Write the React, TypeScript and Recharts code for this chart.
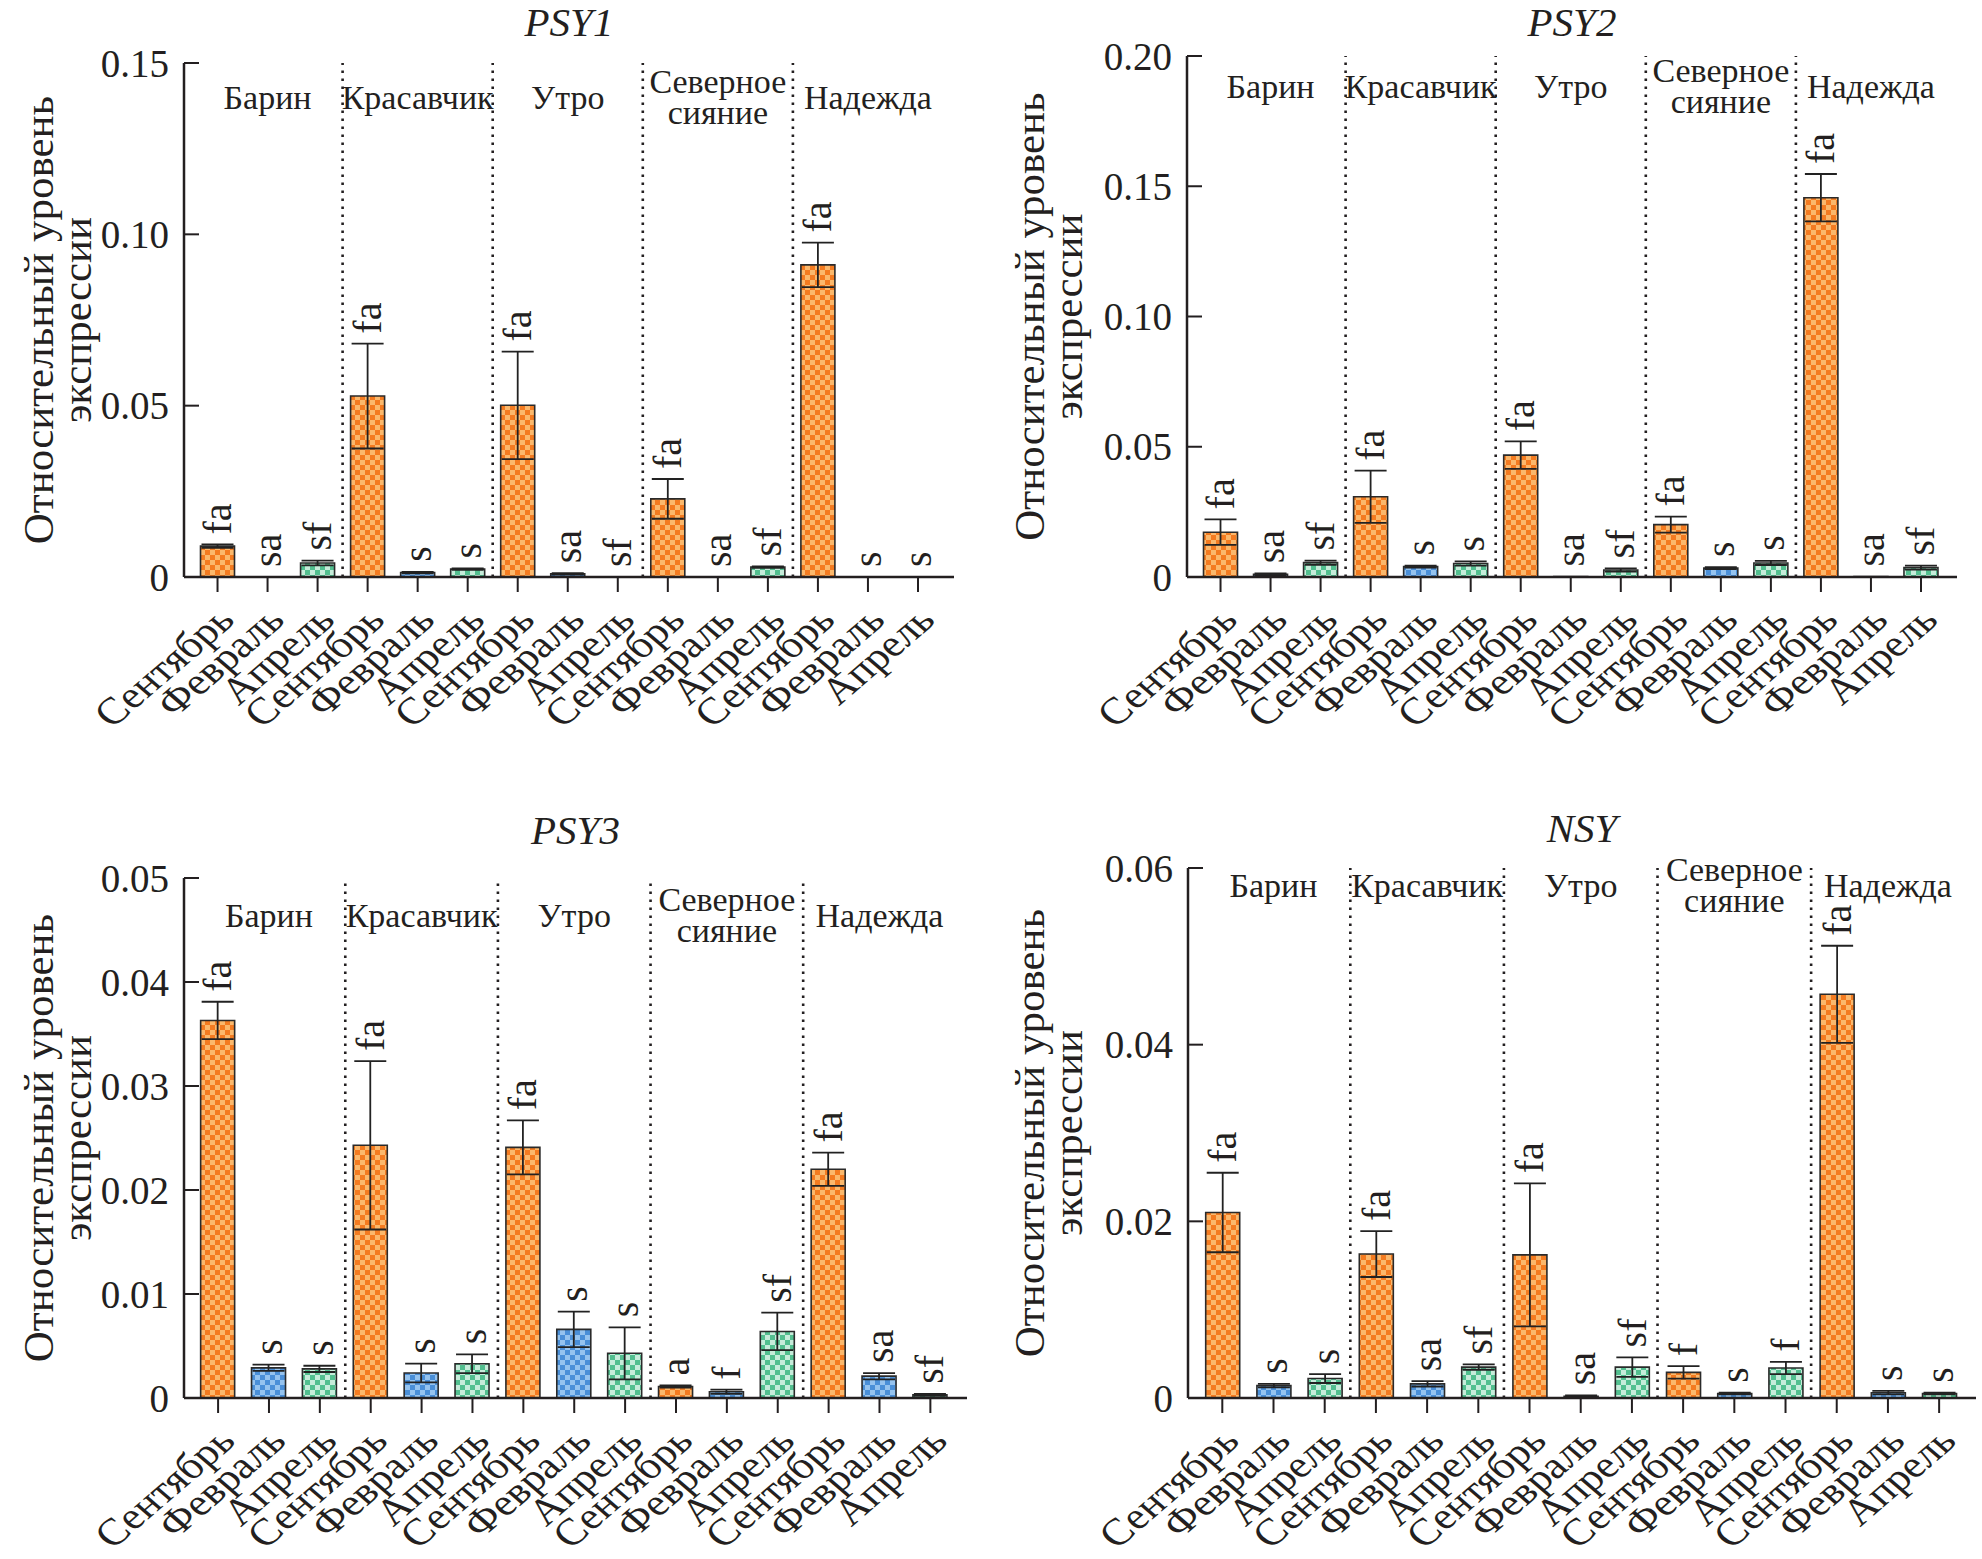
import React from 'react';
import { BarChart, Bar, XAxis, YAxis, ErrorBar, Cell, LabelList, ReferenceLine } from 'recharts';

const varieties = ['Барин', 'Красавчик', 'Утро', 'Северное\nсияние', 'Надежда'];
const months = ['Сентябрь', 'Февраль', 'Апрель'];
const categories = varieties.flatMap(() => months);

const psy1Values = [0.009, 0, 0.0041, 0.0528, 0.0013, 0.0023, 0.0501, 0.0009, 0, 0.0228, 0, 0.0029, 0.0911, 0, 0];
const psy1Errors = [0.0005, 0, 0.0007, 0.0153, 0.0002, 0.0002, 0.0157, 0.0002, 0, 0.0058, 0, 0.0002, 0.0065, 0, 0];
const psy1Letters = ['fa', 'sa', 'sf', 'fa', 's', 's', 'fa', 'sa', 'sf', 'fa', 'sa', 'sf', 'fa', 's', 's'];

const psy2Values = [0.0172, 0.001, 0.0055, 0.0308, 0.004, 0.0052, 0.0468, 0.0002, 0.0027, 0.0201, 0.0034, 0.0054, 0.1456, 0.0002, 0.0036];
const psy2Errors = [0.0049, 0.0004, 0.0008, 0.01, 0.0004, 0.0008, 0.0053, 0, 0.0006, 0.0031, 0.0004, 0.0008, 0.0091, 0, 0.0008];
const psy2Letters = ['fa', 'sa', 'sf', 'fa', 's', 's', 'fa', 'sa', 'sf', 'fa', 's', 's', 'fa', 'sa', 'sf'];

const psy3Values = [0.0363, 0.0029, 0.0028, 0.0243, 0.0024, 0.0033, 0.0241, 0.0066, 0.0043, 0.0011, 0.0006, 0.0064, 0.022, 0.0021, 0.0003];
const psy3Errors = [0.0018, 0.0003, 0.0003, 0.0081, 0.0009, 0.0009, 0.0026, 0.0017, 0.0025, 0.0001, 0.0002, 0.0018, 0.0016, 0.0003, 0.0001];
const psy3Letters = ['fa', 's', 's', 'fa', 's', 's', 'fa', 's', 's', 'a', 'f', 'sf', 'fa', 'sa', 'sf'];

const nsyValues = [0.021, 0.0014, 0.0022, 0.0163, 0.0016, 0.0035, 0.0162, 0.0002, 0.0035, 0.0029, 0.0005, 0.0034, 0.0457, 0.0006, 0.0005];
const nsyErrors = [0.0045, 0.0002, 0.0005, 0.0026, 0.0003, 0.0003, 0.0081, 0.0001, 0.0011, 0.0007, 0.0001, 0.0007, 0.0055, 0.0002, 0.0001];
const nsyLetters = ['fa', 's', 's', 'fa', 'sa', 'sf', 'fa', 'sa', 'sf', 'f', 's', 'f', 'fa', 's', 's'];

const psy1Ticks = [0, 0.05, 0.1, 0.15];
const psy2Ticks = [0, 0.05, 0.1, 0.15, 0.2];
const psy3Ticks = [0, 0.01, 0.02, 0.03, 0.04, 0.05];
const nsyTicks = [0, 0.02, 0.04, 0.06];

const FONT = "'Liberation Serif', 'Times New Roman', serif";
const INK = '#231f20';
const monthColors = [
  { base: '#f47b20', light: '#fbb86c' },
  { base: '#4a8fd8', light: '#95c3ef' },
  { base: '#52bf8f', light: '#c6ecda' },
];

// helper bar on top of each value bar carries the letter label at value + error;
// a tiny floor keeps zero-height helpers from losing their label
const buildRows = (values: number[], errors: number[], letters: string[]) =>
  values.map((v, i) => ({
    pos: i + 1,
    month: i % 3,
    value: v,
    err: errors[i],
    top: Math.max(errors[i], 1e-7),
    letter: letters[i],
  }));

const MonthTick = (props: any) => {
  const { x, y, payload } = props;
  const label = categories[payload.value - 1];
  const tx = x + 19;
  const ty = y + 45;
  return (
    <g>
      <line x1={x} y1={y} x2={x} y2={y + 15} stroke={INK} strokeWidth={2} />
      <text
        x={0}
        y={0}
        transform={`translate(${tx}, ${ty}) scale(1, 0.86) rotate(-45)`}
        textAnchor="end"
        fontSize={44}
        fontFamily={FONT}
        fill={INK}
      >
        {label}
      </text>
    </g>
  );
};

const ValueTick = (props: any) => {
  const { x, y, payload } = props;
  const v = payload.value;
  return (
    <g>
      <line x1={x} y1={y} x2={x + 15} y2={y} stroke={INK} strokeWidth={2} />
      <text x={x - 15} y={y} dy="0.35em" textAnchor="end" fontSize={39} fontFamily={FONT} fill={INK}>
        {v === 0 ? '0' : v.toFixed(2)}
      </text>
    </g>
  );
};

const YLabel = (props: any) => {
  const vb = props.viewBox || {};
  const cy = vb.y + vb.height / 2;
  const lines = ['Относительный уровень', 'экспрессии'];
  const xs = [vb.x + 38, vb.x + 76];
  return (
    <g>
      {lines.map((l, i) => (
        <text
          key={i}
          x={xs[i]}
          y={cy}
          transform={`rotate(-90, ${xs[i]}, ${cy})`}
          textAnchor="middle"
          dominantBaseline="central"
          fontSize={43}
          fontFamily={FONT}
          fill={INK}
        >
          {l}
        </text>
      ))}
    </g>
  );
};

const GroupLabel = (props: any) => {
  const vb = props.viewBox || {};
  const lines = String(props.name).split('\n');
  const c = props.gy;
  const ys = lines.length > 1 ? [c - 16, c + 15] : [c];
  return (
    <g>
      {lines.map((l, i) => (
        <text
          key={i}
          x={vb.x}
          y={vb.y + ys[i]}
          textAnchor="middle"
          dominantBaseline="central"
          fontSize={34}
          fontFamily={FONT}
          fill={INK}
        >
          {l}
        </text>
      ))}
    </g>
  );
};

const LetterLabel = (props: any) => {
  const vb = props.viewBox || props;
  const cx = vb.x + vb.width / 2;
  const ty = vb.y - 10;
  return (
    <text
      x={cx}
      y={ty}
      transform={`rotate(-90, ${cx}, ${ty})`}
      textAnchor="start"
      dominantBaseline="central"
      fontSize={40}
      fontFamily={FONT}
      fill={INK}
    >
      {props.value}
    </text>
  );
};

type PanelProps = {
  id: string;
  title: string;
  rows: any[];
  ticks: number[];
  left: number;
  top: number;
  width: number;
  height: number;
  plotLeft: number;
  plotRight: number;
  plotTop: number;
  plotBottom: number;
  titleY: number;
  groupY: number;
};

const Panel = (p: PanelProps) => {
  const max = p.ticks[p.ticks.length - 1];
  return (
    <div style={{ position: 'absolute', left: p.left, top: p.top, width: p.width, height: p.height }}>
      <div
        style={{
          position: 'absolute',
          left: (p.plotLeft + p.plotRight) / 2,
          top: p.titleY - 21,
          transform: 'translateX(-50%)',
          fontFamily: FONT,
          fontStyle: 'italic',
          fontSize: 41,
          lineHeight: '42px',
          color: INK,
          whiteSpace: 'nowrap',
        }}
      >
        {p.title}
      </div>
      <BarChart
        width={p.width}
        height={p.height}
        data={p.rows}
        margin={{ top: p.plotTop, right: p.width - p.plotRight, bottom: 0, left: 0 }}
        barSize={34}
      >
        <defs>
          {monthColors.map((c, i) => (
            <pattern key={i} id={`${p.id}-m${i}`} patternUnits="userSpaceOnUse" width={10} height={10}>
              <rect x={0} y={0} width={10} height={10} fill={c.base} />
              <rect x={0} y={0} width={5} height={5} fill={c.light} />
              <rect x={5} y={5} width={5} height={5} fill={c.light} />
            </pattern>
          ))}
        </defs>
        <XAxis
          dataKey="pos"
          type="number"
          domain={[0.33, 15.72]}
          ticks={categories.map((_, i) => i + 1)}
          interval={0}
          height={p.height - p.plotBottom}
          axisLine={{ stroke: INK, strokeWidth: 2.5 }}
          tickLine={false}
          tickSize={0}
          tickMargin={0}
          tick={<MonthTick />}
        />
        <YAxis
          type="number"
          domain={[0, max]}
          ticks={p.ticks}
          width={p.plotLeft}
          axisLine={{ stroke: INK, strokeWidth: 2.5 }}
          tickLine={false}
          tickSize={0}
          tickMargin={0}
          tick={<ValueTick />}
          label={<YLabel />}
        />
        {[3.5, 6.5, 9.5, 12.5].map((x) => (
          <ReferenceLine key={x} x={x} stroke={INK} strokeWidth={2.6} strokeDasharray="2.5 5.5" />
        ))}
        {varieties.map((name, i) => (
          <ReferenceLine key={name} x={i * 3 + 2} stroke="none" label={<GroupLabel name={name} gy={p.groupY} />} />
        ))}
        <Bar dataKey="value" stackId="s" stroke="#2a2a2a" strokeWidth={1.6} isAnimationActive={false}>
          {p.rows.map((r, i) => (
            <Cell key={i} fill={`url(#${p.id}-m${r.month})`} />
          ))}
          <ErrorBar dataKey="err" width={16} strokeWidth={1.8} stroke="#222" direction="y" />
        </Bar>
        <Bar dataKey="top" stackId="s" fill="none" stroke="none" isAnimationActive={false}>
          <LabelList dataKey="letter" content={<LetterLabel />} />
        </Bar>
      </BarChart>
    </div>
  );
}

export default function App() {
  return (
    <div style={{ position: 'absolute', left: 0, top: 0, width: 1982, height: 1559, background: '#fff' }}>
      <Panel id="psy1" title="PSY1" rows={buildRows(psy1Values, psy1Errors, psy1Letters)} ticks={psy1Ticks}
        left={0} top={0} width={991} height={780} plotLeft={184} plotRight={954} plotTop={63} plotBottom={577}
        titleY={22} groupY={34} />
      <Panel id="psy2" title="PSY2" rows={buildRows(psy2Values, psy2Errors, psy2Letters)} ticks={psy2Ticks}
        left={991} top={0} width={991} height={780} plotLeft={196} plotRight={966} plotTop={56} plotBottom={577}
        titleY={22} groupY={30} />
      <Panel id="psy3" title="PSY3" rows={buildRows(psy3Values, psy3Errors, psy3Letters)} ticks={psy3Ticks}
        left={0} top={780} width={991} height={779} plotLeft={184} plotRight={967} plotTop={98} plotBottom={618}
        titleY={50} groupY={37} />
      <Panel id="nsy" title="NSY" rows={buildRows(nsyValues, nsyErrors, nsyLetters)} ticks={nsyTicks}
        left={991} top={780} width={991} height={779} plotLeft={197} plotRight={985} plotTop={88} plotBottom={618}
        titleY={48} groupY={17} />
    </div>
  );
}
